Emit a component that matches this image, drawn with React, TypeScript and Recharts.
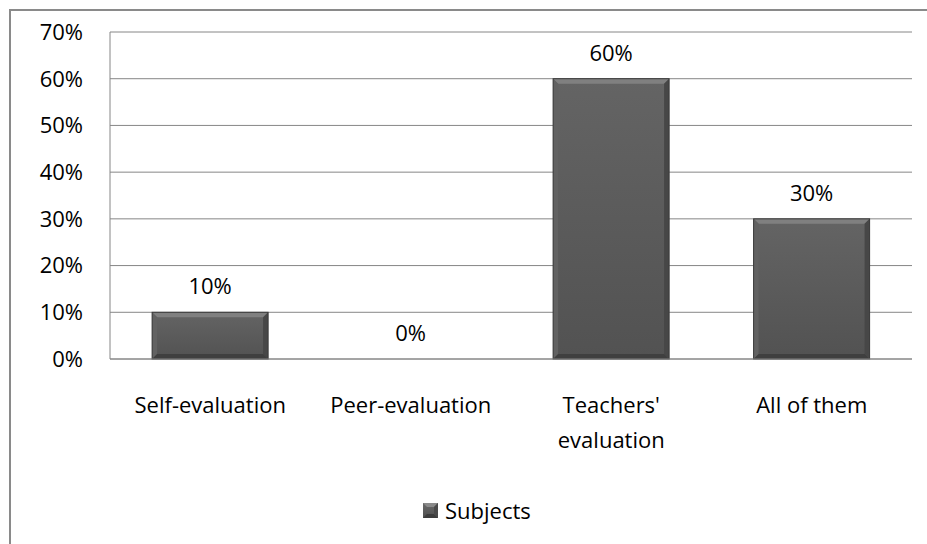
import * as React from "react";
import {
  Bar,
  BarChart,
  CartesianGrid,
  LabelList,
  Legend,
  XAxis,
  YAxis,
} from "recharts";

const categories = ["Self-evaluation", "Peer-evaluation", "Teachers'\nevaluation", "All of them"];
const subjects = [0.1, 0, 0.6, 0.3];
const yTicks = [0, 0.1, 0.2, 0.3, 0.4, 0.5, 0.6, 0.7];

const data = categories.map((name, i) => ({ name, subjects: subjects[i] }));

const FONT = "'Open Sans', sans-serif";
const FS = 22;
const pct = (v: number) => `${Math.round(v * 100)}%`;

function BevelBar(props: any) {
  const { x, y, width, height } = props;
  if (!height || height <= 0) return null;
  const b = Math.min(5, height / 2);
  const x2 = x + width;
  const y2 = y + height;
  return (
    <g>
      <rect x={x} y={y} width={width} height={height} fill="url(#barFace)" />
      <polygon points={`${x},${y} ${x2},${y} ${x2 - b},${y + b} ${x + b},${y + b}`} fill="#808080" />
      <polygon points={`${x},${y} ${x + b},${y + b} ${x + b},${y2 - b} ${x},${y2}`} fill="#626262" />
      <polygon points={`${x2},${y} ${x2},${y2} ${x2 - b},${y2 - b} ${x2 - b},${y + b}`} fill="#474747" />
      <polygon points={`${x},${y2} ${x + b},${y2 - b} ${x2 - b},${y2 - b} ${x2},${y2}`} fill="#3f3f3f" />
      <rect x={x} y={y} width={width} height={height} fill="none" stroke="#3a3a3a" strokeWidth={1} />
    </g>
  );
}

function CategoryTick(props: any) {
  const { x, y, payload } = props;
  const lines = String(payload.value).split("\n");
  return (
    <text x={x} y={y} textAnchor="middle" fill="#000" fontSize={FS} fontFamily={FONT}>
      {lines.map((l, i) => (
        <tspan key={i} x={x} dy={i === 0 ? 46 : 35}>
          {l}
        </tspan>
      ))}
    </text>
  );
}

function LegendBox() {
  return (
    <div style={{ display: "flex", alignItems: "center", fontFamily: FONT, fontSize: FS, color: "#000", lineHeight: "26px" }}>
      <svg width={15} height={15} style={{ marginRight: 7 }}>
        <defs>
          <linearGradient id="legFace" x1="0" y1="0" x2="0" y2="1">
            <stop offset="0%" stopColor="#6a6a6a" />
            <stop offset="100%" stopColor="#4e4e4e" />
          </linearGradient>
        </defs>
        <rect x={0} y={0} width={15} height={15} fill="url(#legFace)" />
        <polygon points="0,0 15,0 11,4 4,4" fill="#8a8a8a" />
        <polygon points="0,15 4,11 11,11 15,15" fill="#3c3c3c" />
        <polygon points="15,0 15,15 11,11 11,4" fill="#4a4a4a" />
      </svg>
      <span>Subjects</span>
    </div>
  );
}

export default function App() {
  return (
    <div style={{ position: "fixed", left: 0, top: 0, width: 927, height: 544, overflow: "hidden", background: "#fff" }}>
      <div
        style={{
          position: "absolute",
          left: 9,
          top: 9,
          width: 1000,
          height: 600,
          border: "2px solid #8a8a8a",
        }}
      />
      <div style={{ position: "absolute", left: 0, top: 0 }}>
        <BarChart
          width={927}
          height={544}
          data={data}
          margin={{ top: 32, right: 15, left: 0, bottom: 59 }}
          barCategoryGap="21%"
        >
          <defs>
            <linearGradient id="barFace" x1="0" y1="0" x2="0" y2="1">
              <stop offset="0%" stopColor="#646464" />
              <stop offset="100%" stopColor="#525252" />
            </linearGradient>
          </defs>
          <CartesianGrid vertical={false} stroke="#868686" strokeWidth={1} />
          <XAxis
            dataKey="name"
            height={100}
            interval={0}
            axisLine={{ stroke: "#868686" }}
            tickLine={false}
            tick={<CategoryTick />}
          />
          <YAxis
            width={110}
            domain={[0, 0.7]}
            ticks={yTicks}
            tickFormatter={pct}
            axisLine={{ stroke: "#868686" }}
            tickLine={false}
            tickSize={0}
            tickMargin={27}
            tick={{ fill: "#000", fontSize: FS, fontFamily: FONT }}
          />
          <Legend
            content={<LegendBox />}
            wrapperStyle={{ position: "absolute", left: 423, top: 497, width: "auto" }}
          />
          <Bar dataKey="subjects" shape={<BevelBar />} isAnimationActive={false}>
            <LabelList
              dataKey="subjects"
              position="top"
              offset={18}
              formatter={(v: any) => pct(Number(v))}
              fill="#000"
              fontSize={FS}
              fontFamily={FONT}
            />
          </Bar>
        </BarChart>
      </div>
    </div>
  );
}
